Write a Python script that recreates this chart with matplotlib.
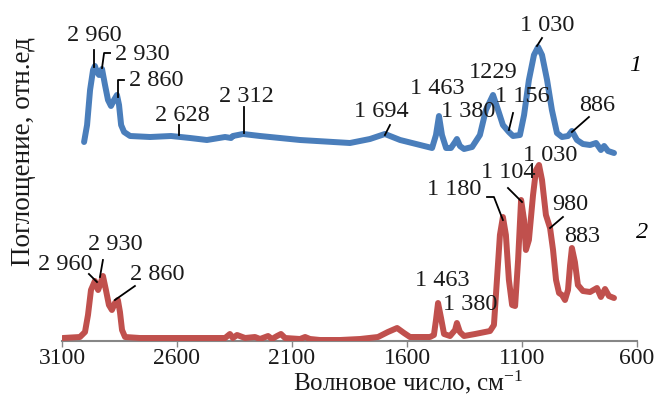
import matplotlib
matplotlib.use("Agg")
import matplotlib.pyplot as plt

plt.rcParams['font.family'] = ['Liberation Serif', 'DejaVu Serif']
plt.rcParams['mathtext.fontset'] = 'custom'
plt.rcParams['mathtext.rm'] = 'Liberation Serif'
plt.rcParams['mathtext.it'] = 'Liberation Serif:italic'

# ---- data (wavenumber, cm-1 ; absorbance, arbitrary units with offset) ----
wn1 = [3004, 2991, 2978, 2965, 2957, 2948, 2939, 2926, 2913, 2900, 2887, 2874, 2861, 2852,
       2843, 2830, 2804, 2717, 2626, 2543, 2470, 2391, 2365, 2357, 2313, 2239, 2065, 1848,
       1761, 1696, 1630, 1543, 1491, 1474, 1461, 1448, 1430, 1409, 1391, 1383, 1370, 1352,
       1317, 1283, 1257, 1226, 1204, 1183, 1157, 1139, 1109, 1091, 1070, 1048, 1030, 1013,
       991, 970, 948, 926, 900, 883, 861, 835, 804, 778, 757, 743, 726, 700]
ab1 = [1.99, 2.16, 2.51, 2.71, 2.75, 2.69, 2.66, 2.72, 2.56, 2.41, 2.35, 2.41, 2.46, 2.36,
       2.16, 2.09, 2.05, 2.04, 2.05, 2.03, 2.01, 2.04, 2.03, 2.05, 2.07, 2.05, 2.01, 1.98,
       2.02, 2.07, 2.01, 1.96, 1.93, 2.06, 2.25, 2.06, 1.93, 1.93, 1.99, 2.02, 1.95, 1.92,
       1.94, 2.06, 2.31, 2.46, 2.31, 2.16, 2.09, 2.05, 2.06, 2.26, 2.61, 2.86, 2.94, 2.86,
       2.61, 2.31, 2.08, 2.04, 2.05, 2.10, 2.01, 1.97, 1.96, 1.98, 1.91, 1.95, 1.90, 1.88]

wn2 = [3096, 3022, 3000, 2987, 2974, 2957, 2943, 2935, 2922, 2909, 2896, 2883, 2870, 2857,
       2848, 2839, 2826, 2761, 2500, 2391, 2370, 2357, 2339, 2304, 2261, 2239, 2204, 2187,
       2165, 2148, 2130, 2065, 2043, 2022, 1978, 1891, 1804, 1726, 1683, 1643, 1613, 1587,
       1500, 1483, 1474, 1465, 1452, 1439, 1413, 1391, 1383, 1370, 1352, 1304, 1239, 1222,
       1209, 1196, 1183, 1170, 1157, 1143, 1130, 1117, 1104, 1091, 1083, 1070, 1052, 1039,
       1026, 1013, 996, 978, 965, 952, 939, 926, 913, 900, 891, 883, 870, 857, 835, 804,
       774, 757, 739, 722, 700]
ab2 = [0.03, 0.04, 0.09, 0.26, 0.51, 0.60, 0.51, 0.56, 0.65, 0.51, 0.36, 0.31, 0.38, 0.41,
       0.29, 0.11, 0.04, 0.03, 0.03, 0.03, 0.07, 0.03, 0.06, 0.03, 0.04, 0.02, 0.05, 0.02,
       0.05, 0.07, 0.03, 0.02, 0.04, 0.02, 0.01, 0.01, 0.02, 0.04, 0.09, 0.13, 0.08, 0.04,
       0.04, 0.06, 0.21, 0.38, 0.23, 0.07, 0.05, 0.11, 0.18, 0.09, 0.05, 0.07, 0.10, 0.16,
       0.61, 1.06, 1.24, 1.06, 0.61, 0.36, 0.35, 0.81, 1.41, 1.21, 0.91, 1.01, 1.46, 1.71,
       1.76, 1.61, 1.26, 1.13, 0.91, 0.61, 0.48, 0.46, 0.41, 0.51, 0.76, 0.93, 0.79, 0.56,
       0.50, 0.49, 0.53, 0.44, 0.52, 0.45, 0.43]

xticks = [3100, 2600, 2100, 1600, 1100, 600]

# annotations: (label, text x, text y, leader line xs, leader line ys)
ann1 = [("2 960", 2961, 3.06, [2961, 2961], [2.91, 2.74]),
        ("2 930", 2752, 2.87, [2891, 2917, 2926], [2.88, 2.88, 2.73]),
        ("2 860", 2691, 2.61, [2830, 2857, 2857], [2.61, 2.61, 2.44]),
        ("2 628", 2578, 2.26, [2591, 2591], [2.16, 2.06]),
        ("2 312", 2296, 2.45, [2309, 2309], [2.34, 2.08]),
        ("1 694", 1713, 2.30, [1674, 1696], [2.16, 2.06]),
        ("1 463", 1470, 2.52, None, None),
        ("1 380", 1335, 2.30, None, None),
        ("1229", 1226, 2.69, None, None),
        ("1 156", 1100, 2.44, [1139, 1157], [2.28, 2.11]),
        ("1 030", 991, 3.16, [1013, 1035], [3.03, 2.95]),
        ("886", 774, 2.36, [809, 883], [2.24, 2.09])]
ann2 = [("2 960", 3087, 0.77, [2983, 2948], [0.67, 0.59]),
        ("2 930", 2870, 0.97, [2922, 2935], [0.81, 0.64]),
        ("2 860", 2687, 0.66, [2783, 2870], [0.55, 0.41]),
        ("1 463", 1448, 0.60, None, None),
        ("1 380", 1326, 0.37, None, None),
        ("1 180", 1396, 1.52, [1252, 1222, 1183], [1.44, 1.44, 1.21]),
        ("1 104", 1161, 1.69, [1161, 1100], [1.53, 1.39]),
        ("1 030", 978, 1.86, None, None),
        ("980", 891, 1.36, [922, 978], [1.24, 1.13]),
        ("883", 839, 1.05, None, None)]

blue = '#4a7ebb'
red = '#c0504d'
gray = '#868686'

fig = plt.figure(figsize=(6.61, 3.96), dpi=100)
W, H = 661, 396
ax = fig.add_axes([62 / W, (H - 341) / H, 575 / W, 341 / H])
ax.set_xlim(3100, 600)
ax.set_ylim(0, 3.41)

ax.plot(wn1, ab1, color=blue, lw=4.3, solid_joinstyle='round', solid_capstyle='round', zorder=3)
ax.plot(wn2, ab2, color=red, lw=4.3, solid_joinstyle='round', solid_capstyle='round', zorder=3)

fs = 17.5
for lab, tx, ty, lx, ly in ann1 + ann2:
    ax.text(tx, ty, lab, fontsize=fs, ha='center', va='center', color='#1a1a1a', zorder=4)
    if lx is not None:
        ax.plot(lx, ly, color='black', lw=1.3, zorder=4)

ax.text(609, 2.76, "1", fontsize=fs, style='italic', ha='center', va='center')
ax.text(578, 1.08, "2", fontsize=fs, style='italic', ha='center', va='center')

for s in ['top', 'right', 'left']:
    ax.spines[s].set_visible(False)
ax.spines['bottom'].set_color(gray)
ax.spines['bottom'].set_linewidth(1.5)
ax.set_yticks([])
ax.set_xticks(xticks)
ax.set_xticklabels([str(t) for t in xticks])
ax.tick_params(axis='x', direction='out', length=4, width=1, color=gray,
               labelsize=17, pad=1.0, labelcolor='#1a1a1a')

fig.text(408 / W, 0.5 / H, "Волновое число, см$^{\\mathrm{-1}}$", fontsize=18,
         ha='center', va='bottom', color='#1a1a1a')
fig.text(24 / W, 1 - 152 / H, "Поглощение, отн.ед", fontsize=19.5, rotation=90,
         ha='center', va='center', color='#1a1a1a')

fig.savefig("out.png", dpi=100)
